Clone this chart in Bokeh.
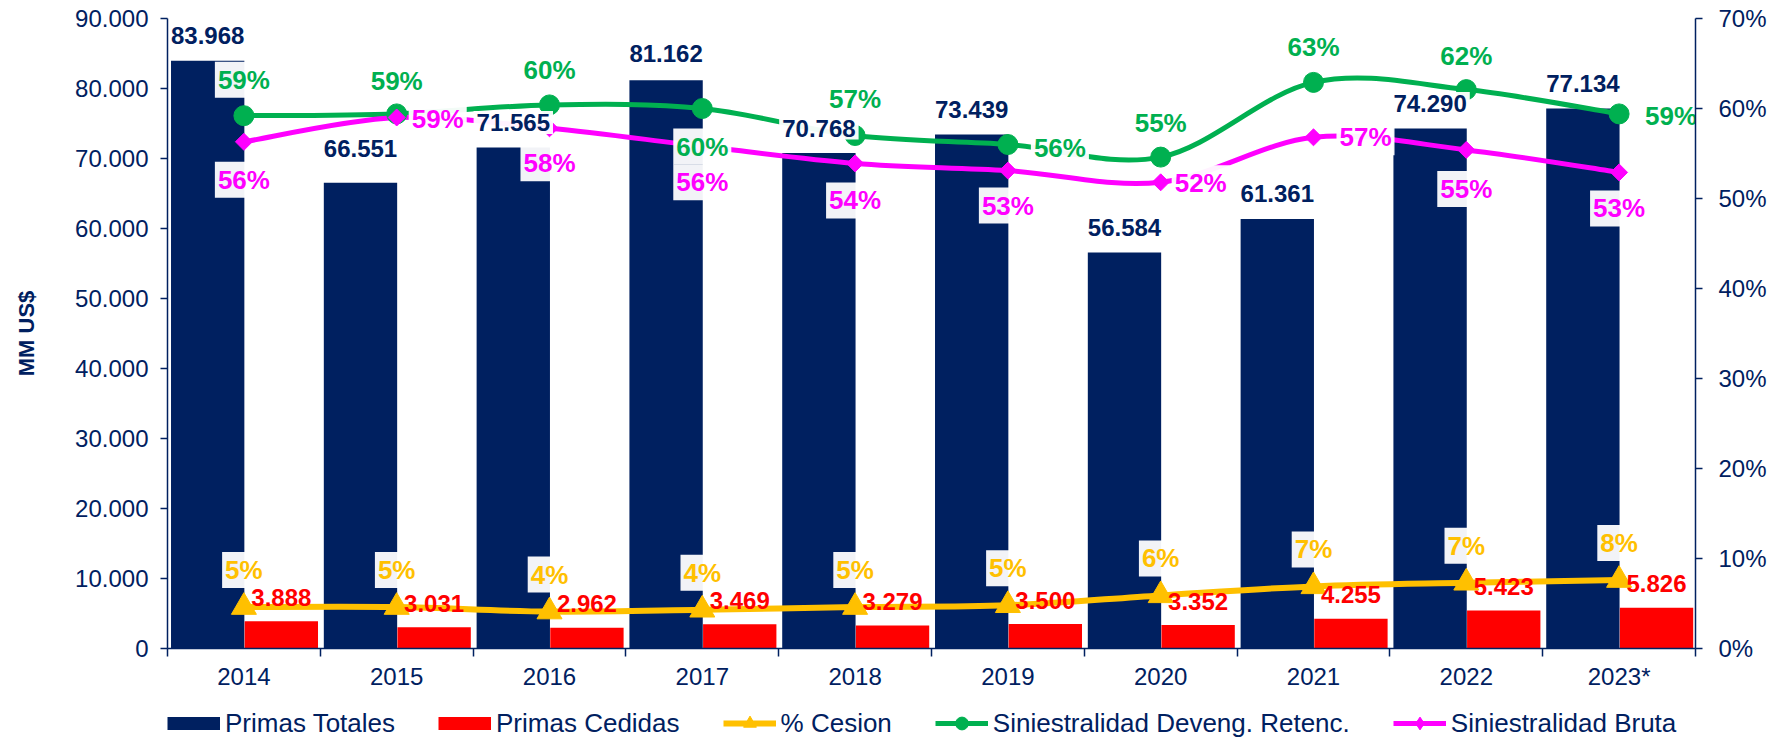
import numpy as np
from bokeh.plotting import figure
from bokeh.layouts import column
from bokeh.models import ColumnDataSource, Range1d, LinearAxis, FixedTicker, Legend, LegendItem
from bokeh.core.properties import value
from bokeh.embed import file_html
from bokeh.resources import INLINE

# ---------------- data ----------------
years = ["2014", "2015", "2016", "2017", "2018", "2019", "2020", "2021", "2022", "2023*"]
primas_totales = [83968, 66551, 71565, 81162, 70768, 73439, 56584, 61361, 74290, 77134]
primas_cedidas = [3888, 3031, 2962, 3469, 3279, 3500, 3352, 4255, 5423, 5826]
pct_cesion = [4.6, 4.6, 4.1, 4.3, 4.6, 4.8, 5.9, 6.9, 7.3, 7.6]
sin_deveng = [59.2, 59.4, 60.4, 60.0, 57.0, 56.0, 54.6, 62.9, 62.1, 59.4]
sin_bruta = [56.3, 59.0, 57.8, 55.8, 53.9, 53.1, 51.8, 56.8, 55.4, 52.9]
left_ticks = [0, 10000, 20000, 30000, 40000, 50000, 60000, 70000, 80000, 90000]
right_ticks = [0, 10, 20, 30, 40, 50, 60, 70]
legend_labels = ["Primas Totales", "Primas Cedidas", "% Cesion",
                 "Siniestralidad Deveng. Retenc.", "Siniestralidad Bruta"]

# ---------------- label placement (pixels) ----------------
tot_dy = [-25, -34, -25, -27, -25, -25, -25, -25, -25, -25]
ced_dy = [-24] * 10
ces_dy = [-37] * 10
dev_dx = [0, 0, 0, 0, 0, 52, 0, 0, 0, 52]
dev_dy = [-36, -33, -35, 38, -37, 3, -34, -35, -34, 2]
bru_dx = [0, 41, 0, 0, 0, 0, 40, 52, 0, 0]
bru_dy = [38, 1, 35, 36, 37, 35, 1, 0, 39, 36]

NAVY = "#002060"
RED = "#FF0000"
YELLOW = "#FFC000"
GREEN = "#00B050"
MAGENTA = "#FF00FF"
FONT = "Liberation Sans"

n = len(years)
xs = np.arange(n, dtype=float)
NAVY_OFF, RED_OFF, BW = -0.237, 0.245, 0.48
W = 1776


def fmt_num(v):
    return f"{v:,}".replace(",", ".")


def pct_txt(v):
    return f"{int(round(v))}%"


p = figure(width=W, height=694, x_range=Range1d(-0.5, n - 0.5), y_range=Range1d(0, 90000),
           output_backend="svg", toolbar_location=None,
           min_border_left=167, min_border_right=81, min_border_top=18, min_border_bottom=46)
p.title.visible = False
p.extra_y_ranges = {"pct": Range1d(0, 70)}
p.xgrid.visible = False
p.ygrid.visible = False
p.outline_line_color = None
p.background_fill_color = "white"
p.border_fill_color = "white"

# bars
bar_src = ColumnDataSource(dict(xn=xs + NAVY_OFF, xr=xs + RED_OFF, tot=primas_totales, ced=primas_cedidas,
                                tot_lbl=[fmt_num(v) for v in primas_totales],
                                ced_lbl=[fmt_num(v) for v in primas_cedidas],
                                tot_dy=tot_dy, ced_dy=ced_dy))
p.vbar(x="xn", top="tot", width=BW, bottom=0, source=bar_src, fill_color=NAVY, line_color=None)
p.vbar(x="xr", top="ced", width=BW, bottom=0, source=bar_src, fill_color=RED, line_color=None)


def smooth(ys):
    d = dict(x0=[], y0=[], x1=[], y1=[], cx0=[], cy0=[], cx1=[], cy1=[])
    P = list(zip(xs, ys))
    for i in range(n - 1):
        pm = P[i - 1] if i > 0 else P[i]
        p0, p1 = P[i], P[i + 1]
        p2 = P[i + 2] if i + 2 < n else P[i + 1]
        d["x0"].append(p0[0]); d["y0"].append(p0[1])
        d["x1"].append(p1[0]); d["y1"].append(p1[1])
        d["cx0"].append(p0[0] + (p1[0] - pm[0]) / 6); d["cy0"].append(p0[1] + (p1[1] - pm[1]) / 6)
        d["cx1"].append(p1[0] - (p2[0] - p0[0]) / 6); d["cy1"].append(p1[1] - (p2[1] - p0[1]) / 6)
    return ColumnDataSource(d)


series = [
    (pct_cesion, YELLOW, 6, "triangle", 25, 0.0, [0] * n, ces_dy),
    (sin_deveng, GREEN, 5, "circle", 20, 0.0, dev_dx, dev_dy),
    (sin_bruta, MAGENTA, 5, "square", 12, np.pi / 4, bru_dx, bru_dy),
]
for ys, col, lw, mk, sz, ang, dx, dy in series:
    p.bezier(x0="x0", y0="y0", x1="x1", y1="y1", cx0="cx0", cy0="cy0", cx1="cx1", cy1="cy1",
             source=smooth(ys), line_color=col, line_width=lw, y_range_name="pct")
for ys, col, lw, mk, sz, ang, dx, dy in series:
    p.scatter(x=xs, y=ys, marker=mk, size=sz, angle=ang, fill_color=col, line_color=col,
              y_range_name="pct")

# labels
common = dict(text_font=value(FONT), text_font_style="bold", text_align="center", text_baseline="middle",
              background_fill_color="white", background_fill_alpha=0.95, padding=3)
p.text(x="xn", y="tot", text="tot_lbl", y_offset="tot_dy", source=bar_src, text_color=NAVY,
       text_font_size="24px", **common)
p.text(x="xr", y="ced", text="ced_lbl", y_offset="ced_dy", source=bar_src, text_color=RED,
       text_font_size="24px", text_font=value(FONT), text_font_style="bold", text_align="center",
       text_baseline="middle")
for ys, col, lw, mk, sz, ang, dx, dy in series:
    src = ColumnDataSource(dict(x=xs, y=ys, t=[pct_txt(v) for v in ys], dx=dx, dy=dy))
    p.text(x="x", y="y", text="t", x_offset="dx", y_offset="dy", source=src, text_color=col,
           text_font_size="26px", y_range_name="pct", **common)

# axes
p.yaxis.ticker = FixedTicker(ticks=left_ticks)
p.yaxis.major_label_overrides = {v: fmt_num(v) for v in left_ticks}
p.yaxis.major_label_standoff = 12
p.yaxis.axis_label = "MM US$"
p.yaxis.axis_label_text_font = FONT
p.yaxis.axis_label_text_font_style = "bold"
p.yaxis.axis_label_text_font_size = "22px"
p.yaxis.axis_label_text_color = NAVY
p.yaxis.axis_label_standoff = 33

right = LinearAxis(y_range_name="pct", ticker=FixedTicker(ticks=right_ticks))
right.major_label_overrides = {v: f"{v}%" for v in right_ticks}
right.major_label_standoff = 16
p.add_layout(right, "right")

for ax in [p.yaxis[0], right]:
    ax.axis_line_color = NAVY
    ax.axis_line_width = 1.5
    ax.major_tick_line_color = NAVY
    ax.major_tick_line_width = 1.5
    ax.major_tick_out = 7
    ax.major_tick_in = 0
    ax.minor_tick_line_color = None
    ax.major_label_text_font = FONT
    ax.major_label_text_font_size = "24px"
    ax.major_label_text_color = NAVY

xa = p.xaxis[0]
xa.ticker = FixedTicker(ticks=list(xs), minor_ticks=list(np.arange(n + 1) - 0.5))
xa.major_label_overrides = {i: years[i] for i in range(n)}
xa.axis_line_color = NAVY
xa.axis_line_width = 1.5
xa.major_tick_line_color = None
xa.major_tick_out = 0
xa.major_tick_in = 0
xa.minor_tick_line_color = NAVY
xa.minor_tick_line_width = 1.5
xa.minor_tick_out = 8
xa.minor_tick_in = 0
xa.major_label_standoff = 6
xa.major_label_text_font = FONT
xa.major_label_text_font_size = "24px"
xa.major_label_text_color = NAVY

# ---------------- legend strip ----------------
lg = figure(width=W, height=46, x_range=Range1d(0, 1), y_range=Range1d(0, 1),
            x_axis_type=None, y_axis_type=None, output_backend="svg", toolbar_location=None,
            min_border=0)
lg.title.visible = False
lg.xgrid.visible = False
lg.ygrid.visible = False
lg.outline_line_color = None
nan1 = [np.nan]
swatch = [(NAVY, 13, None), (RED, 13, None), (YELLOW, 6, "triangle"),
          (GREEN, 5, "circle"), (MAGENTA, 5, "diamond")]
items = []
for lbl, (col, lw, mk) in zip(legend_labels, swatch):
    rs = [lg.line(x=nan1 * 2, y=nan1 * 2, line_color=col, line_width=lw)]
    if mk is not None:
        rs.append(lg.scatter(x=nan1, y=nan1, marker=mk, fill_color=col, line_color=col))
    items.append(LegendItem(label=lbl, renderers=rs))
legend = Legend(items=items, orientation="horizontal", location=(0, 1),
                glyph_width=53, glyph_height=32, label_standoff=5, spacing=43, padding=0, margin=0,
                border_line_color=None, background_fill_alpha=0,
                label_text_font=FONT, label_text_font_size="26px", label_text_color=NAVY, label_height=26)
lg.add_layout(legend)

layout = column(p, lg, spacing=0)
open("out.html", "w").write(file_html(layout, INLINE))
